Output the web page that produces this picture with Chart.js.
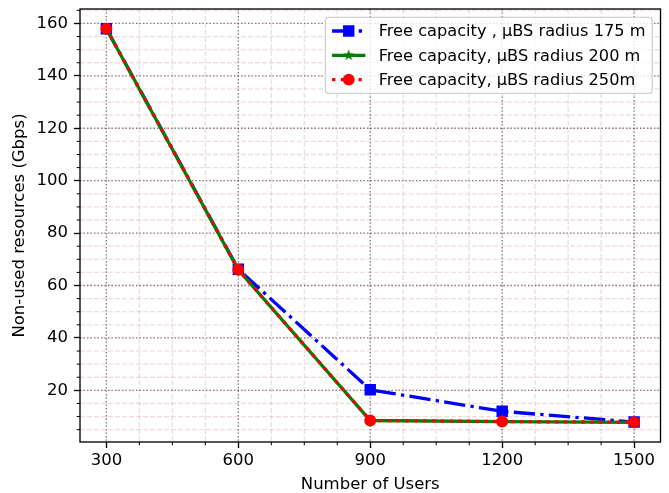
<!DOCTYPE html>
<html>
<head>
<meta charset="utf-8">
<script src="https://cdn.jsdelivr.net/npm/chart.js@4/dist/chart.umd.min.js"></script>
<style>
  body { margin: 0; background: #fff; }
  #wrap { width: 669px; height: 493px; }
</style>
</head>
<body>
<div id="wrap"><canvas id="freeChart" width="669" height="493"></canvas></div>
<script>
// data
const users = [300, 600, 900, 1200, 1500];
const free175 = [158, 66.2, 20.2, 12.0, 7.9];
const free200 = [158, 66, 8.5, 8.1, 7.8];
const free250 = [158, 66, 8.5, 8.1, 7.8];
const seriesLabels = [
    'Free capacity , µBS radius 175 m',
    'Free capacity, µBS radius 200 m',
    'Free capacity, µBS radius 250m'
];
const xTicks = [300, 600, 900, 1200, 1500];
const yTicks = [20, 40, 60, 80, 100, 120, 140, 160];
const xMinorStep = 75;
const yMinorStep = 5;

const FONT = 'DejaVu Sans';
const FS = 16.5;
const LEGEND_FS = 16.2;

// matplotlib style 5% margins
const pad = (lo, hi) => [lo - (hi - lo) * 0.05, hi + (hi - lo) * 0.05];
const allY = free175.concat(free200, free250);
const [xMin, xMax] = pad(Math.min(...users), Math.max(...users));
const [yMin, yMax] = pad(Math.min(...allY), Math.max(...allY));

const toPoints = (vals) => vals.map((v, i) => ({ x: users[i], y: v }));

// filled star marker (matplotlib '*')
const makeStar = (color, size) => {
    const c = document.createElement('canvas');
    c.width = size; c.height = size;
    const g = c.getContext('2d');
    const cx = size / 2, cy = size / 2, R = size / 2 - 0.5, r = R * 0.4;
    g.beginPath();
    for (let i = 0; i < 10; i++) {
        const rad = i % 2 === 0 ? R : r;
        const ang = -Math.PI / 2 + i * Math.PI / 5;
        g.lineTo(cx + rad * Math.cos(ang), cy + rad * Math.sin(ang));
    }
    g.closePath();
    g.fillStyle = color;
    g.fill();
    return c;
};
const greenStar = makeStar('green', 13);

const stepsIn = (lo, hi, step) => {
    const out = [];
    for (let v = Math.ceil(lo / step) * step; v <= hi; v += step) out.push(v);
    return out;
};

// grid, minor ticks, frame and legend the matplotlib way
const mplPlugin = {
    id: 'mplPlugin',
    beforeDatasetsDraw(chart) {
        const { ctx, chartArea: a, scales: { x, y } } = chart;
        const xs = stepsIn(x.min, x.max, xMinorStep);
        const ys = stepsIn(y.min, y.max, yMinorStep);
        const line = (x1, y1, x2, y2) => {
            ctx.beginPath(); ctx.moveTo(x1, y1); ctx.lineTo(x2, y2); ctx.stroke();
        };
        ctx.save();
        // minor grid: light red dashed
        ctx.lineWidth = 1.3;
        ctx.strokeStyle = 'rgba(205,120,120,0.25)';
        ctx.setLineDash([5, 2]);
        xs.forEach(v => { const p = x.getPixelForValue(v); line(p, a.top, p, a.bottom); });
        ys.forEach(v => { const p = y.getPixelForValue(v); line(a.left, p, a.right, p); });
        // major grid: dark dotted
        ctx.strokeStyle = 'rgba(60,50,50,0.6)';
        ctx.setLineDash([1.3, 2.2]);
        xTicks.forEach(v => { const p = x.getPixelForValue(v); line(p, a.top, p, a.bottom); });
        yTicks.forEach(v => { const p = y.getPixelForValue(v); line(a.left, p, a.right, p); });
        // minor ticks
        ctx.setLineDash([]);
        ctx.strokeStyle = '#000';
        ctx.lineWidth = 1;
        xs.filter(v => !xTicks.includes(v)).forEach(v => {
            const p = x.getPixelForValue(v); line(p, a.bottom, p, a.bottom + 3.3);
        });
        ys.filter(v => !yTicks.includes(v)).forEach(v => {
            const p = y.getPixelForValue(v); line(a.left - 3.3, p, a.left, p);
        });
        ctx.restore();
    },
    afterDatasetsDraw(chart) {
        const { ctx, chartArea: a } = chart;
        ctx.save();
        // spines
        ctx.lineWidth = 1.33;
        ctx.strokeStyle = '#000';
        ctx.strokeRect(a.left, a.top, a.right - a.left, a.bottom - a.top);

        // legend, upper right
        const sets = chart.data.datasets.slice().sort((p, q) => p.legendIndex - q.legendIndex);
        ctx.font = `${LEGEND_FS}px "${FONT}"`;
        const textW = Math.max(...sets.map(d => ctx.measureText(d.label).width));
        const bpad = 6.7, handle = 33.3, gap = 13.3, rowH = 24.3;
        const boxW = bpad + handle + gap + textW + bpad;
        const boxH = 76;
        const right = a.right - 8.3, top = a.top + 8.3;
        const left = right - boxW;
        ctx.beginPath();
        ctx.roundRect(left, top, boxW, boxH, 3);
        ctx.fillStyle = 'rgba(255,255,255,0.8)';
        ctx.fill();
        ctx.lineWidth = 1.3;
        ctx.strokeStyle = '#d0d0d0';
        ctx.stroke();

        sets.forEach((d, i) => {
            const cy = top + 13.7 + i * rowH;
            const hx = left + bpad;
            const mx = hx + handle / 2;
            ctx.save();
            ctx.strokeStyle = d.borderColor;
            ctx.lineWidth = d.borderWidth;
            ctx.setLineDash(d.borderDash || []);
            ctx.beginPath(); ctx.moveTo(hx, cy); ctx.lineTo(hx + handle, cy); ctx.stroke();
            ctx.restore();
            ctx.save();
            ctx.fillStyle = d.pointBackgroundColor;
            ctx.strokeStyle = d.pointBorderColor;
            ctx.lineWidth = d.pointBorderWidth;
            ctx.setLineDash([]);
            if (typeof d.pointStyle !== 'string') {
                ctx.drawImage(d.pointStyle, mx - d.pointStyle.width / 2, cy - d.pointStyle.height / 2);
            } else {
                ctx.beginPath();
                if (d.pointStyle === 'rect') {
                    const s = Math.SQRT1_2 * d.pointRadius;
                    ctx.rect(mx - s, cy - s, 2 * s, 2 * s);
                } else {
                    ctx.arc(mx, cy, d.pointRadius, 0, Math.PI * 2);
                }
                ctx.fill(); ctx.stroke();
            }
            ctx.restore();
            ctx.fillStyle = '#000';
            ctx.font = `${LEGEND_FS}px "${FONT}"`;
            ctx.textBaseline = 'middle';
            ctx.textAlign = 'left';
            ctx.fillText(d.label, hx + handle + gap, cy + 1);
        });
        ctx.restore();
    }
};

const ctx = document.getElementById('freeChart').getContext('2d');
new Chart(ctx, {
    type: 'line',
    data: {
        datasets: [
            {
                label: seriesLabels[2],
                legendIndex: 2,
                order: 1,
                data: toPoints(free250),
                borderColor: 'red',
                backgroundColor: 'red',
                borderWidth: 3.3,
                borderDash: [3.3, 5.5],
                pointStyle: 'circle',
                pointRadius: 5.2,
                pointBorderWidth: 1.5,
                pointBackgroundColor: 'red',
                pointBorderColor: 'red',
            },
            {
                label: seriesLabels[1],
                legendIndex: 1,
                order: 2,
                data: toPoints(free200),
                borderColor: 'green',
                backgroundColor: 'green',
                borderWidth: 3.3,
                pointStyle: greenStar,
                pointRadius: 6,
                pointBorderWidth: 0,
                pointBackgroundColor: 'green',
                pointBorderColor: 'green',
            },
            {
                label: seriesLabels[0],
                legendIndex: 0,
                order: 3,
                data: toPoints(free175),
                borderColor: 'blue',
                backgroundColor: 'blue',
                borderWidth: 3.3,
                borderDash: [21.3, 5.3, 3.3, 5.3],
                pointStyle: 'rect',
                pointRadius: 7,
                pointBorderWidth: 1.5,
                pointBackgroundColor: 'blue',
                pointBorderColor: 'blue',
            },
        ],
    },
    options: {
        responsive: false,
        animation: false,
        layout: { padding: { top: 9, right: 8, left: 0, bottom: 0 } },
        plugins: {
            legend: { display: false },
            tooltip: { enabled: false },
        },
        elements: { line: { tension: 0, fill: false } },
        scales: {
            x: {
                type: 'linear',
                min: xMin,
                max: xMax,
                afterBuildTicks: (scale) => { scale.ticks = xTicks.map(v => ({ value: v })); },
                afterFit: (scale) => {
                    scale.height = 51;
                    scale.paddingLeft = 0; scale.paddingRight = 0;
                },
                grid: {
                    drawOnChartArea: false,
                    drawTicks: true,
                    tickLength: 6,
                    tickWidth: 1.33,
                    tickColor: '#000',
                },
                border: { display: false },
                ticks: {
                    color: '#000',
                    padding: 3,
                    maxRotation: 0,
                    autoSkip: false,
                    font: { family: FONT, size: FS },
                    callback: (v) => String(v),
                },
                title: {
                    display: true,
                    text: 'Number of Users',
                    color: '#000',
                    font: { family: FONT, size: FS, lineHeight: 1 },
                    padding: { top: 0, bottom: 0 },
                },
            },
            y: {
                type: 'linear',
                min: yMin,
                max: yMax,
                afterBuildTicks: (scale) => { scale.ticks = yTicks.map(v => ({ value: v })); },
                afterFit: (scale) => {
                    scale.width = 80;
                    scale.paddingTop = 0; scale.paddingBottom = 0;
                },
                grid: {
                    drawOnChartArea: false,
                    drawTicks: true,
                    tickLength: 6,
                    tickWidth: 1.33,
                    tickColor: '#000',
                },
                border: { display: false },
                ticks: {
                    color: '#000',
                    padding: 6,
                    autoSkip: false,
                    font: { family: FONT, size: FS },
                    callback: (v) => String(v),
                },
                title: {
                    display: true,
                    text: 'Non-used resources (Gbps)',
                    color: '#000',
                    font: { family: FONT, size: FS, lineHeight: 1.2 },
                    padding: { top: 10, bottom: 0 },
                },
            },
        },
    },
    plugins: [mplPlugin],
});
</script>
</body>
</html>
